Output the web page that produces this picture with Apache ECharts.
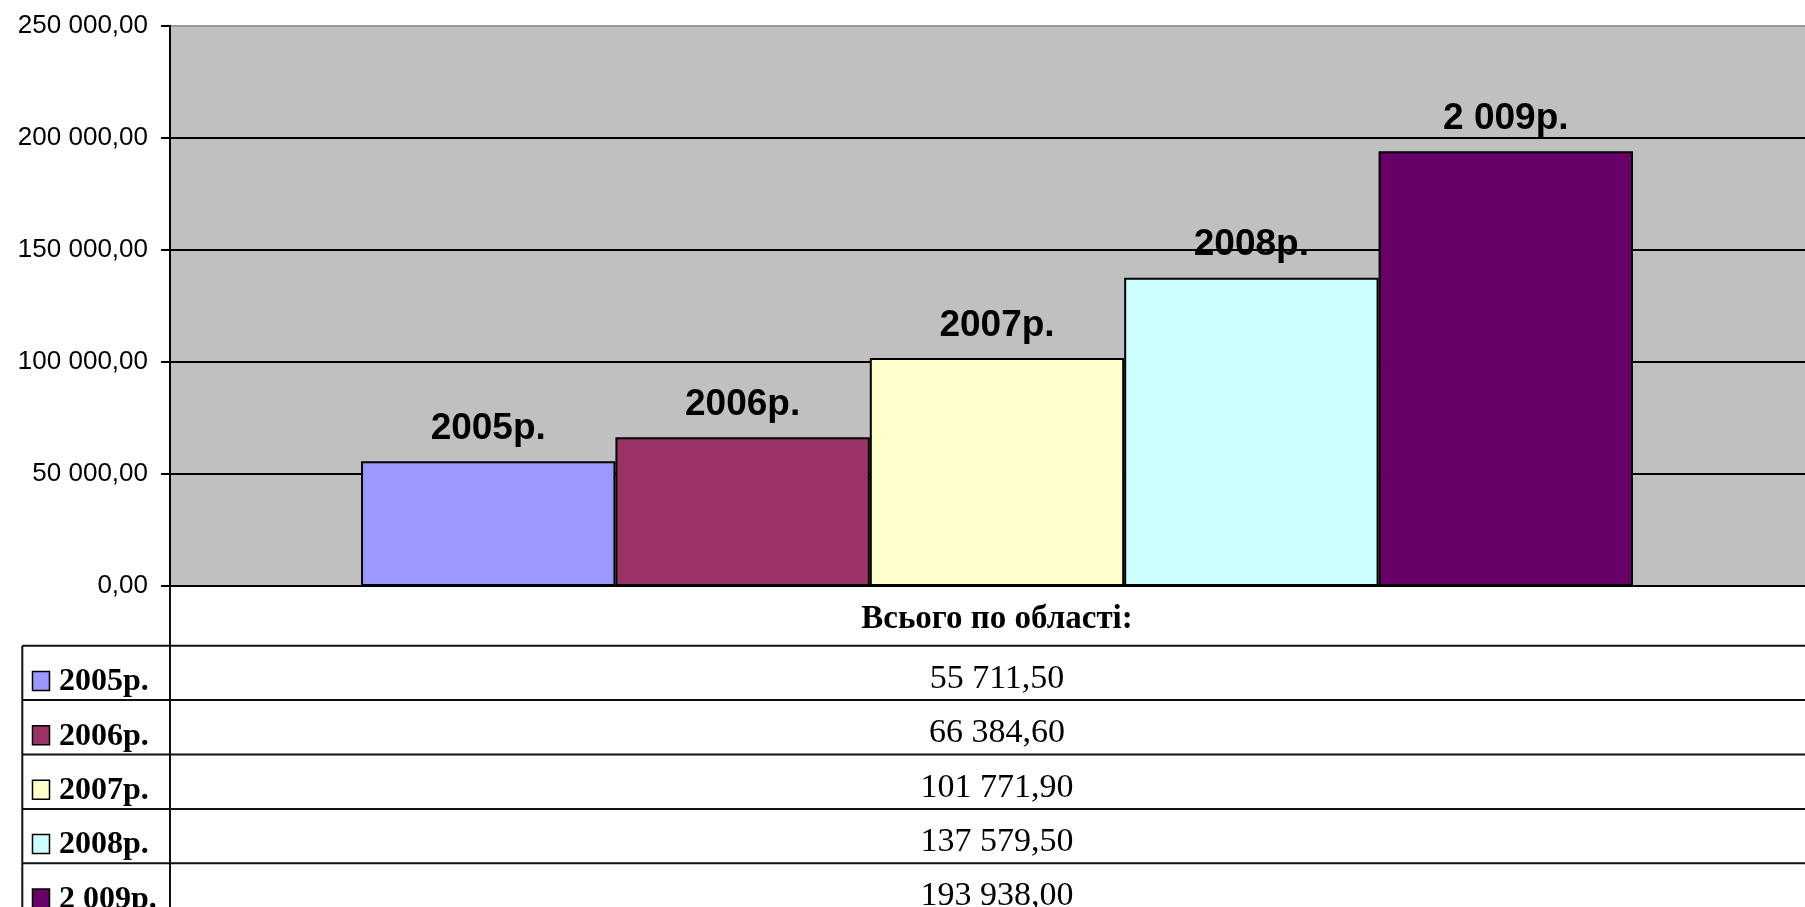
<!DOCTYPE html>
<html>
<head>
<meta charset="utf-8">
<title>Всього по області</title>
<script src="https://cdn.jsdelivr.net/npm/echarts@6.0.0/dist/echarts.min.js"></script>
<style>
  html, body { margin: 0; padding: 0; background: #fff; }
  #chart { width: 1805px; height: 907px; }
</style>
</head>
<body>
<div id="chart"></div>
<script>
// дані
const categories = ['Всього по області:'];
const seriesNames = ['2005р.', '2006р.', '2007р.', '2008р.', '2 009р.'];
const values = [55711.5, 66384.6, 101771.9, 137579.5, 193938.0];
const colors = ['#9999FF', '#993366', '#FFFFCC', '#CCFFFF', '#660066'];
const yTicks = [0, 50000, 100000, 150000, 200000, 250000];

// 55711.5 -> "55 711,50"
function fmt (v) {
  const parts = v.toFixed(2).split('.');
  return parts[0].replace(/\B(?=(\d{3})+(?!\d))/g, ' ') + ',' + parts[1];
}

const chart = echarts.init(document.getElementById('chart'));

const plotTop = 25.7;
const plotBottom = 586;
const rowTop = 645.7; // перший рядок таблиці
const rowH = 54.4;
const tableLeft = 22.3;
const axisX = 170;

chart.setOption({
  animation: false,
  grid: {
    left: axisX,
    top: plotTop,
    width: 1654,
    height: plotBottom - plotTop,
    outerBoundsMode: 'none',
    show: true,
    backgroundColor: '#C0C0C0',
    borderWidth: 0
  },
  xAxis: {
    type: 'category',
    data: categories,
    axisLine: { lineStyle: { color: '#000', width: 2 } },
    axisTick: { show: false },
    axisLabel: {
      fontFamily: 'Liberation Serif',
      fontWeight: 'bold',
      fontSize: 33,
      color: '#000',
      margin: 33,
      verticalAlign: 'middle'
    }
  },
  yAxis: {
    type: 'value',
    min: yTicks[0],
    max: yTicks[yTicks.length - 1],
    interval: yTicks[1] - yTicks[0],
    axisLine: { show: true, lineStyle: { color: '#000', width: 2 } },
    axisTick: { show: true, length: 9, lineStyle: { color: '#000', width: 2 } },
    axisLabel: {
      fontFamily: 'Liberation Sans',
      fontSize: 26,
      color: '#000',
      margin: 22,
      formatter: fmt
    },
    splitLine: {
      show: true,
      lineStyle: { color: ['#000', '#000', '#000', '#000', '#000', '#999'], width: 2 }
    }
  },
  series: seriesNames.map((name, i) => ({
    name: name,
    type: 'bar',
    data: [values[i]],
    barGap: '0%',
    barCategoryGap: '23.1%',
    itemStyle: { color: colors[i], borderColor: '#000', borderWidth: 2 },
    label: {
      show: true,
      position: 'top',
      distance: 14,
      formatter: '{a}',
      fontFamily: 'Liberation Sans',
      fontWeight: 'bold',
      fontSize: 37,
      color: '#000'
    }
  }))
});

// таблиця даних під графіком
const cx = chart.convertToPixel({ xAxisIndex: 0 }, categories[0]);
const W = 1805;
const H = 907;
const lineStyle = { stroke: '#111', lineWidth: 2 };
const els = [];

els.push({ type: 'line', shape: { x1: axisX, y1: plotBottom, x2: axisX, y2: H }, style: lineStyle, z: 10 });
els.push({ type: 'line', shape: { x1: tableLeft, y1: rowTop, x2: tableLeft, y2: H }, style: lineStyle, z: 10 });

seriesNames.forEach((name, i) => {
  const y0 = rowTop + i * rowH;
  const yc = y0 + rowH / 2;
  els.push({ type: 'line', shape: { x1: tableLeft, y1: y0, x2: W, y2: y0 }, style: lineStyle, z: 10 });
  els.push({
    type: 'rect',
    shape: { x: 32.5, y: yc + 8 - 9.5, width: 17, height: 19 },
    style: { fill: colors[i], stroke: '#000', lineWidth: 1.5 },
    z: 10
  });
  els.push({
    type: 'text',
    x: 59,
    y: yc + 9,
    style: {
      text: name,
      font: 'bold 32px "Liberation Serif"',
      fill: '#000',
      verticalAlign: 'middle'
    },
    z: 10
  });
  els.push({
    type: 'text',
    x: cx,
    y: yc + 6,
    style: {
      text: fmt(values[i]),
      font: '34px "Liberation Serif"',
      fill: '#000',
      align: 'center',
      verticalAlign: 'middle'
    },
    z: 10
  });
});

chart.setOption({ graphic: { elements: els } });
</script>
</body>
</html>
